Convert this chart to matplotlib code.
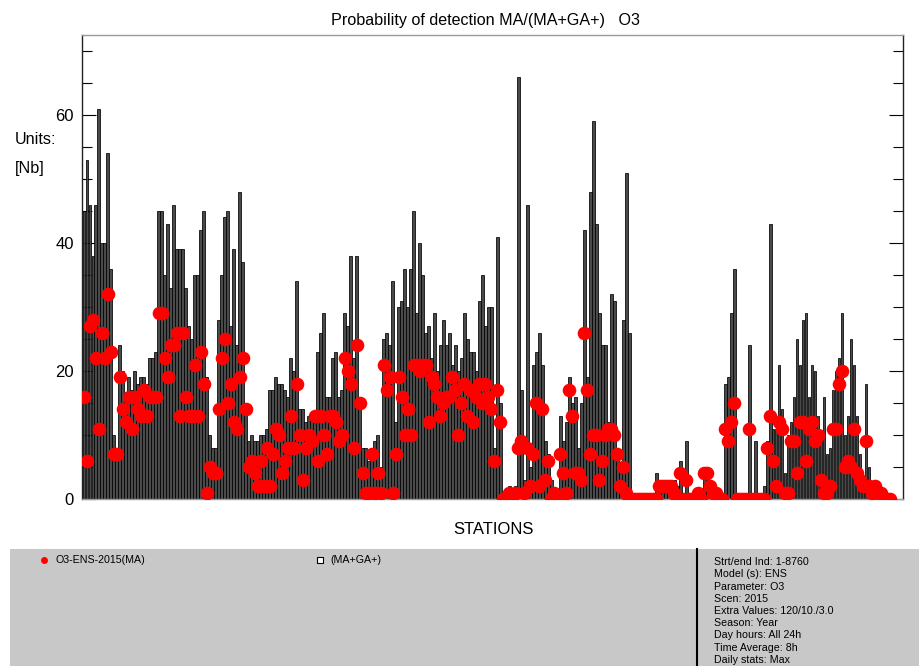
import matplotlib
matplotlib.use("Agg")
import matplotlib.pyplot as plt
from matplotlib.patches import Rectangle
from matplotlib.lines import Line2D
import numpy as np

plt.rcParams['font.family'] = ['Liberation Sans', 'DejaVu Sans']

# (MA+GA+) count per station
ma_ga = [
    45, 53, 46, 38, 46, 61, 40, 40, 54, 36,
    10, 8, 24, 20, 16, 19, 17, 20, 18, 19,
    19, 18, 22, 22, 23, 45, 45, 35, 43, 33,
    46, 39, 39, 39, 33, 27, 25, 35, 35, 42,
    45, 19, 10, 8, 8, 28, 35, 44, 45, 27,
    39, 24, 48, 37, 15, 9, 10, 9, 9, 10,
    10, 11, 17, 17, 19, 18, 18, 17, 16, 22,
    20, 34, 14, 14, 12, 13, 13, 13, 23, 26,
    29, 16, 16, 22, 23, 16, 17, 29, 27, 38,
    22, 38, 15, 8, 8, 6, 8, 9, 10, 5,
    25, 26, 24, 34, 12, 30, 31, 36, 30, 36,
    45, 29, 40, 35, 26, 27, 22, 29, 20, 24,
    28, 24, 26, 21, 24, 20, 22, 29, 25, 23,
    23, 20, 31, 35, 27, 30, 30, 8, 41, 15,
    1, 1, 2, 1, 2, 66, 17, 3, 46, 5,
    21, 23, 26, 21, 9, 7, 3, 1, 1, 13,
    9, 12, 19, 15, 16, 8, 15, 42, 19, 48,
    59, 43, 29, 24, 24, 12, 32, 31, 7, 4,
    28, 51, 26, 1, 0, 1, 0, 0, 0, 0,
    0, 4, 2, 2, 2, 2, 2, 3, 2, 6,
    1, 9, 1, 0, 0, 1, 1, 4, 4, 2,
    1, 1, 0, 0, 18, 19, 29, 36, 0, 0,
    0, 0, 24, 0, 9, 0, 0, 2, 9, 43,
    11, 11, 21, 14, 4, 10, 12, 16, 25, 21,
    28, 29, 16, 21, 20, 13, 10, 16, 7, 8,
    17, 20, 22, 29, 10, 13, 25, 21, 13, 7,
    3, 18, 5, 2, 2, 2, 1, 1, 1, 1,
]

# MA count per station (O3-ENS-2015)
ma = [
    16, 6, 27, 28, 22, 11, 26, 22, 32, 23,
    7, 7, 19, 14, 12, 16, 11, 16, 14, 13,
    17, 13, 16, 16, 16, 29, 29, 22, 19, 24,
    24, 26, 13, 26, 16, 13, 13, 21, 13, 23,
    18, 1, 5, 4, 4, 14, 22, 25, 15, 18,
    12, 11, 19, 22, 14, 5, 6, 4, 2, 6,
    2, 8, 2, 7, 11, 10, 4, 6, 8, 13,
    8, 18, 10, 3, 8, 10, 9, 13, 6, 13,
    10, 7, 13, 13, 12, 9, 10, 22, 20, 18,
    8, 24, 15, 4, 1, 1, 7, 1, 4, 1,
    21, 17, 19, 1, 7, 19, 16, 10, 14, 10,
    21, 21, 20, 21, 21, 12, 19, 18, 16, 13,
    15, 16, 16, 19, 17, 10, 15, 18, 13, 17,
    12, 16, 18, 15, 18, 16, 14, 6, 17, 12,
    0, 0, 1, 0, 1, 8, 9, 1, 8, 2,
    7, 15, 2, 14, 3, 6, 0, 1, 0, 7,
    4, 1, 17, 13, 4, 4, 3, 26, 17, 7,
    10, 10, 3, 6, 10, 11, 11, 10, 7, 2,
    5, 1, 0, 0, 0, 0, 0, 0, 0, 0,
    0, 0, 2, 2, 2, 2, 2, 1, 0, 4,
    0, 3, 0, 0, 0, 1, 0, 4, 4, 2,
    1, 1, 0, 0, 11, 9, 12, 15, 0, 0,
    0, 0, 11, 0, 0, 0, 0, 0, 8, 13,
    6, 2, 12, 11, 1, 1, 9, 9, 4, 12,
    12, 6, 11, 12, 9, 10, 3, 1, 1, 2,
    11, 11, 18, 20, 5, 6, 5, 11, 4, 3,
    2, 9, 2, 1, 2, 1, 1, 0, 0, 0,
]

ytick_vals = [0, 20, 40, 60]
info_lines = [
    "Strt/end Ind: 1-8760",
    "Model (s): ENS",
    "Parameter: O3",
    "Scen: 2015",
    "Extra Values: 120/10./3.0",
    "Season: Year",
    "Day hours: All 24h",
    "Time Average: 8h",
    "Daily stats: Max",
]

W, H = 920, 666
fig = plt.figure(figsize=(W / 100, H / 100), dpi=100)
fig.patch.set_facecolor('white')

ax = fig.add_axes([82 / W, 1 - 499 / H, (903 - 82) / W, (499 - 35) / H])
x = np.arange(len(ma_ga))
ax.bar(x, ma_ga, width=0.86, color='#4a4a4a', edgecolor='#000000',
       linewidth=0.55, zorder=2)
ax.plot(x, ma, linestyle='none', marker='o', markersize=9.8,
        color='#ff0000', markeredgewidth=0, zorder=3, clip_on=True)

ax.set_xlim(-0.6, 273.3)
ax.set_ylim(0, 72.5)
ax.set_xticks([])
ax.set_yticks(ytick_vals)
ax.set_yticks(np.arange(0, 72, 5), minor=True)
ax.tick_params(axis='y', which='major', direction='in', length=10, width=0.8,
               right=True, labelsize=12, pad=6, colors='black')
ax.tick_params(axis='y', which='minor', direction='in', length=7, width=0.8,
               right=True)
for side in ('left', 'right'):
    ax.spines[side].set_color('#222222')
    ax.spines[side].set_linewidth(1.0)
for side in ('top', 'bottom'):
    ax.spines[side].set_color('#9a9a9a')
    ax.spines[side].set_linewidth(1.0)

fig.text(486 / W, 1 - 20 / H, "Probability of detection MA/(MA+GA+)   O3",
         ha='center', va='center', fontsize=11.6)
fig.text(15 / W, 1 - 140 / H, "Units:", ha='left', va='center', fontsize=11.6)
fig.text(15 / W, 1 - 168 / H, "[Nb]", ha='left', va='center', fontsize=11.6)
fig.text(493 / W, 1 - 529 / H, "STATIONS", ha='center', va='center',
         fontsize=12)

# legend / info panel
fig.patches.append(Rectangle((10 / W, 0), (W - 10) / W, (H - 549) / H,
                             transform=fig.transFigure, facecolor='#c8c8c8',
                             edgecolor='none', zorder=0))
fig.lines.append(Line2D([697 / W, 697 / W], [0, (H - 549) / H],
                        transform=fig.transFigure, color='black',
                        linewidth=1.5))
fig.lines.append(Line2D([44 / W], [1 - 560 / H], transform=fig.transFigure,
                        marker='o', markersize=5, color='#ff0000',
                        markeredgewidth=0, linestyle='none'))
fig.text(56 / W, 1 - 560 / H, "O3-ENS-2015(MA)", ha='left', va='center',
         fontsize=7.7)
fig.lines.append(Line2D([320 / W], [1 - 560 / H], transform=fig.transFigure,
                        marker='s', markersize=4, markerfacecolor='white',
                        markeredgecolor='black', markeredgewidth=0.8,
                        linestyle='none'))
fig.text(330 / W, 1 - 560 / H, "(MA+GA+)", ha='left', va='center',
         fontsize=7.7)
for k, line in enumerate(info_lines):
    fig.text(714 / W, 1 - (562 + 12.25 * k) / H, line, ha='left',
             va='center', fontsize=7.7)

fig.savefig("out.png", dpi=100)
